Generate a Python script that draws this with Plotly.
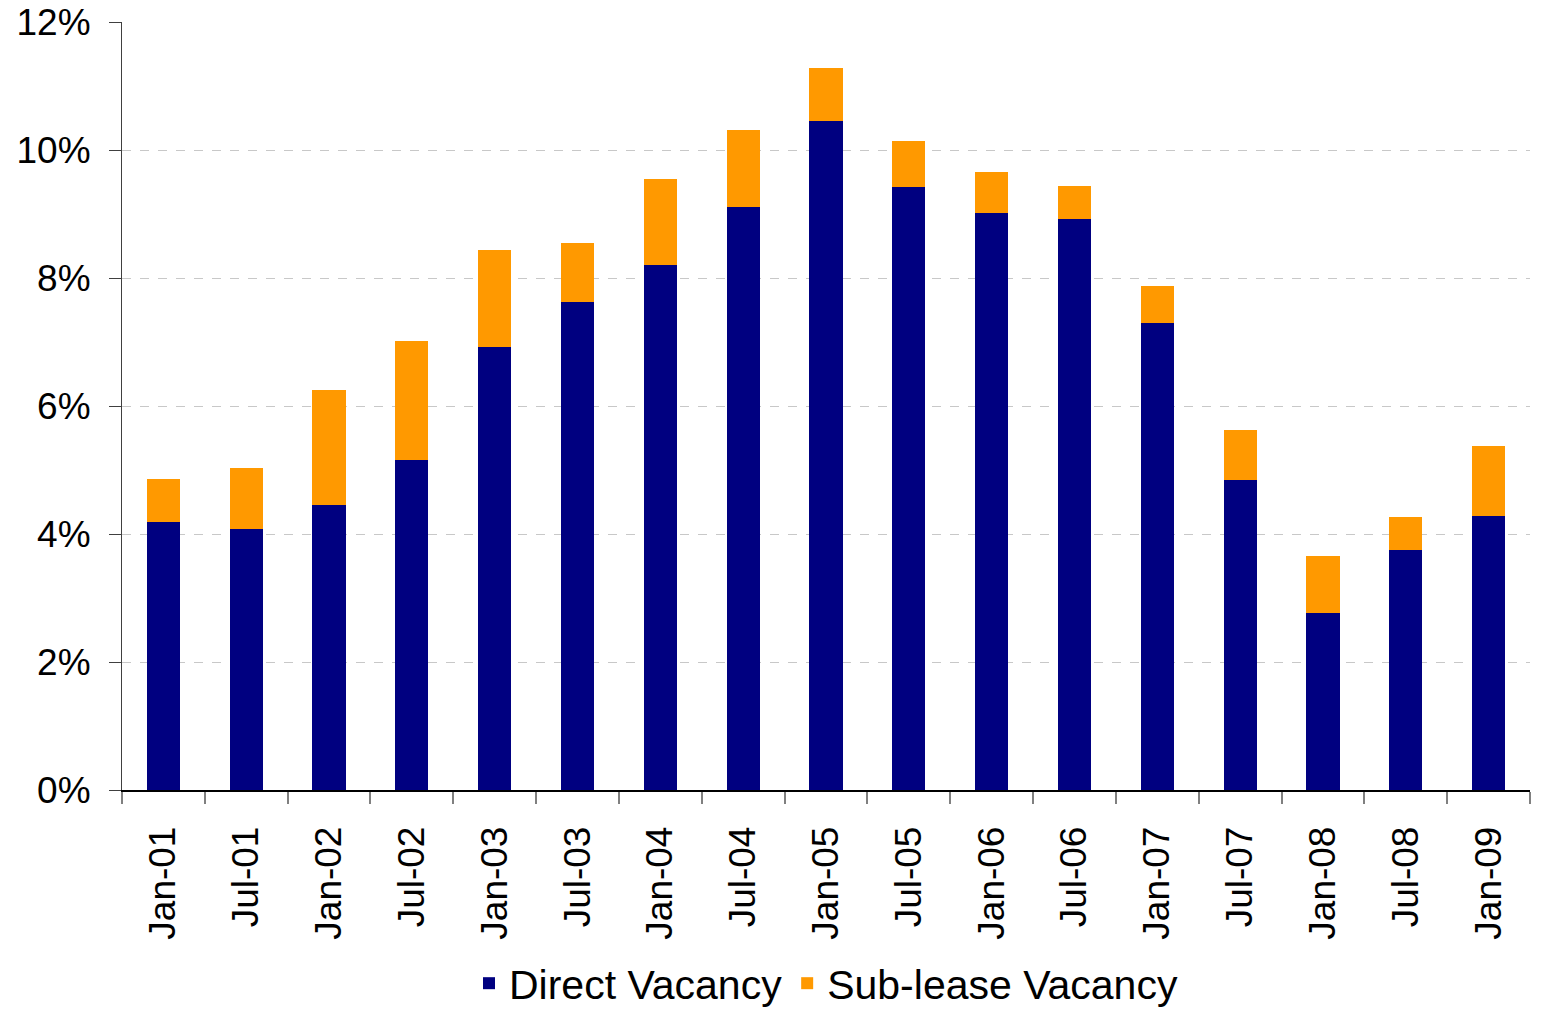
import plotly.graph_objects as go

categories = ["Jan-01", "Jul-01", "Jan-02", "Jul-02", "Jan-03", "Jul-03", "Jan-04", "Jul-04",
              "Jan-05", "Jul-05", "Jan-06", "Jul-06", "Jan-07", "Jul-07", "Jan-08", "Jul-08", "Jan-09"]
direct_vacancy = [4.19, 4.08, 4.45, 5.16, 6.92, 7.63, 8.20, 9.11,
                  10.45, 9.42, 9.02, 8.92, 7.30, 4.84, 2.77, 3.75, 4.28]
total_vacancy = [4.86, 5.03, 6.25, 7.02, 8.44, 8.55, 9.55, 10.31,
                 11.28, 10.14, 9.66, 9.44, 7.88, 5.63, 3.66, 4.27, 5.38]
sublease_vacancy = [round(t - d, 2) for t, d in zip(total_vacancy, direct_vacancy)]

y_ticks = [0, 2, 4, 6, 8, 10, 12]
y_tick_labels = ["0%", "2%", "4%", "6%", "8%", "10%", "12%"]

FONT = "Liberation Sans, Arial, sans-serif"

fig = go.Figure()
fig.add_trace(go.Bar(x=categories, y=direct_vacancy, name="Direct Vacancy",
                     marker=dict(color="#000080", line=dict(width=0))))
fig.add_trace(go.Bar(x=categories, y=sublease_vacancy, name="Sub-lease Vacancy",
                     marker=dict(color="#FF9900", line=dict(width=0))))

fig.update_layout(
    barmode="stack",
    bargap=0.6,
    width=1547, height=1016,
    margin=dict(l=122, r=17, t=22, b=226, autoexpand=False),
    paper_bgcolor="white", plot_bgcolor="white",
    font=dict(family=FONT, color="black", size=37),
    legend=dict(orientation="h", x=0.5, xanchor="center", y=-0.252, yanchor="middle",
                font=dict(size=41), traceorder="normal", itemwidth=30),
    xaxis=dict(type="category", tickangle=-90, tickson="boundaries", ticks="outside",
               ticklen=12, tickcolor="#808080", tickwidth=2, showline=True, linecolor="black",
               linewidth=1.5, tickfont=dict(size=37), showgrid=False, automargin=False,
               ticklabelstandoff=20),
    yaxis=dict(range=[0, 12], tickvals=y_ticks, ticktext=y_tick_labels, ticks="outside",
               ticklen=12, tickcolor="#404040", showline=True, linecolor="#404040",
               linewidth=1, showgrid=True, gridcolor="#C8C8C8", griddash="dash",
               gridwidth=1, zeroline=False, tickfont=dict(size=37), automargin=False,
               ticklabelstandoff=11),
)

fig.write_html("out.html", config={"displayModeBar": False},
               post_script="document.body.style.margin='0';")
